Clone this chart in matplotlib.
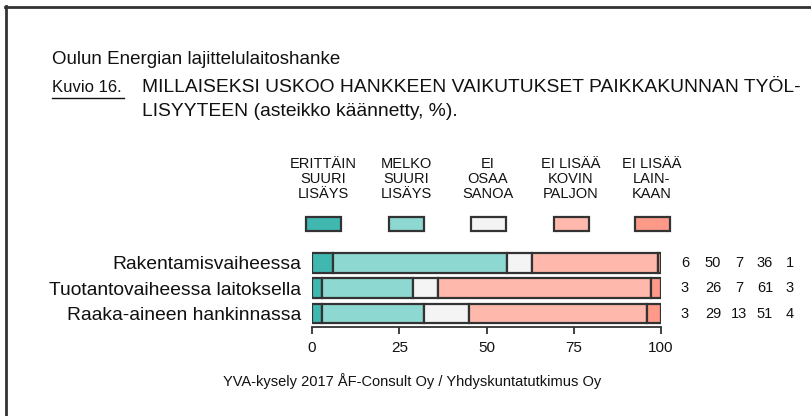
import matplotlib
matplotlib.use("Agg")
import matplotlib.pyplot as plt
from matplotlib.patches import Rectangle
from matplotlib.lines import Line2D
from matplotlib.transforms import blended_transform_factory

# Survey answers (%), scale reversed
categories = ["Rakentamisvaiheessa", "Tuotantovaiheessa laitoksella", "Raaka-aineen hankinnassa"]
answer_labels = ["ERITTÄIN\nSUURI\nLISÄYS", "MELKO\nSUURI\nLISÄYS", "EI\nOSAA\nSANOA",
                 "EI LISÄÄ\nKOVIN\nPALJON", "EI LISÄÄ\nLAIN-\nKAAN"]
values = [
    [6, 50, 7, 36, 1],
    [3, 26, 7, 61, 3],
    [3, 29, 13, 51, 4],
]
colors = ["#40B8B0", "#8ED8D2", "#F4F4F4", "#FFB9AC", "#FF9A88"]
xticks = [0, 25, 50, 75, 100]

W, H = 811, 416
fig = plt.figure(figsize=(W / 100, H / 100), dpi=100)
plt.rcParams["font.family"] = ["Liberation Sans", "DejaVu Sans"]
TXT = "#111111"
EDGE = "#333333"

def fx(px):
    return px / W

def fy(py):
    return 1 - py / H

# page frame
fig.add_artist(Line2D([fx(5), 1], [fy(6.5), fy(6.5)], color=EDGE, lw=2.0))
fig.add_artist(Line2D([fx(5.5), fx(5.5)], [fy(6), 0], color=EDGE, lw=2.0))

# headings
fig.text(fx(52), fy(60), "Oulun Energian lajittelulaitoshanke", fontsize=13.5,
         va="center", ha="left", color=TXT)
fig.text(fx(52), fy(88), "Kuvio 16.", fontsize=12, va="center", ha="left", color=TXT)
fig.add_artist(Line2D([fx(52), fx(124)], [fy(98), fy(98)], color=TXT, lw=1.0))
fig.text(fx(142), fy(88), "MILLAISEKSI USKOO HANKKEEN VAIKUTUKSET PAIKKAKUNNAN TYÖL-",
         fontsize=13.9, va="center", ha="left", color=TXT)
fig.text(fx(142), fy(112), "LISYYTEEN (asteikko käännetty, %).",
         fontsize=13.9, va="center", ha="left", color=TXT)

# legend
legend_cx = [323, 406, 488, 571, 652]
for cx, lab, col in zip(legend_cx, answer_labels, colors):
    fig.text(fx(cx), fy(179), lab, fontsize=10.5, ha="center", va="center",
             linespacing=1.1, color=TXT)
    fig.add_artist(Rectangle((fx(cx - 17.5), fy(231)), fx(35), 14 / H,
                             transform=fig.transFigure, facecolor=col,
                             edgecolor=EDGE, lw=1.6))

# stacked bars
ax_left, ax_right = 312, 661
ax_top, ax_bottom = 250.1, 326.7
ax = fig.add_axes([fx(ax_left), fy(ax_bottom), fx(ax_right - ax_left), (ax_bottom - ax_top) / H])
for i, row in enumerate(values):
    left = 0
    for v, col in zip(row, colors):
        ax.barh(i, v, left=left, height=0.77, color=col, edgecolor=EDGE, linewidth=1.6)
        left += v
ax.set_xlim(0, 100)
ax.set_ylim(2.52, -0.5)
ax.set_yticks(range(len(categories)))
ax.set_yticklabels(categories, fontsize=13.9, color=TXT)
ax.tick_params(axis="y", length=0, pad=8)
ax.set_xticks(xticks)
ax.set_xticklabels([str(x) for x in xticks], fontsize=11, color=TXT)
ax.tick_params(axis="x", length=5, width=1.3, color=EDGE, pad=5)
for s in ["top", "right", "left"]:
    ax.spines[s].set_visible(False)
ax.spines["bottom"].set_color(EDGE)
ax.spines["bottom"].set_linewidth(1.3)
ax.spines["bottom"].set_bounds(0, 100)

# value columns to the right of the bars
num_x = [685, 713, 739, 765, 790]
tr = blended_transform_factory(fig.transFigure, ax.transData)
for i, row in enumerate(values):
    for nx, v in zip(num_x, row):
        ax.text(fx(nx), i, str(v), transform=tr, fontsize=10.5,
                ha="center", va="center", color=TXT, clip_on=False)

fig.text(fx(223), fy(381), "YVA-kysely 2017 ÅF-Consult Oy / Yhdyskuntatutkimus Oy",
         fontsize=10.5, ha="left", va="center", color=TXT)

fig.savefig("out.png", dpi=100)
